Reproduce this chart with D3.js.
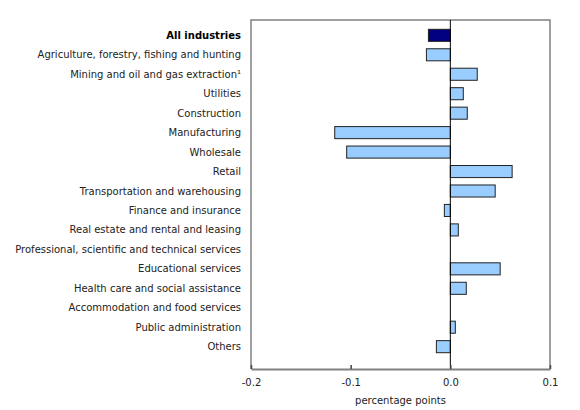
<!DOCTYPE html>
<html>
<head>
<meta charset="utf-8">
<script src="https://cdn.jsdelivr.net/npm/d3@7"></script>
<style>
  body { margin: 0; background: #fff; }
  text { font-family: "DejaVu Sans", Verdana, sans-serif; font-size: 10px; fill: #222; }
</style>
</head>
<body>
<div id="chart"></div>
<script>
// industries, top to bottom
var categories = [
  "All industries",
  "Agriculture, forestry, fishing and hunting",
  "Mining and oil and gas extraction\u00b9",
  "Utilities",
  "Construction",
  "Manufacturing",
  "Wholesale",
  "Retail",
  "Transportation and warehousing",
  "Finance and insurance",
  "Real estate and rental and leasing",
  "Professional, scientific and technical services",
  "Educational services",
  "Health care and social assistance",
  "Accommodation and food services",
  "Public administration",
  "Others"
];

// contribution, percentage points
var values = [
  -0.022, -0.024, 0.027, 0.013, 0.017, -0.116, -0.104, 0.062,
  0.045, -0.006, 0.008, 0.0, 0.050, 0.016, 0.0, 0.005, -0.014
];

var xTicks = [-0.2, -0.1, 0.0, 0.1];

var width = 580, height = 410;
var margin = { top: 20, right: 30, bottom: 41, left: 251 };

var svg = d3.select("#chart").append("svg")
  .attr("width", width)
  .attr("height", height);

var x = d3.scaleLinear()
  .domain([-0.2, 0.1])
  .range([margin.left, width - margin.right]);

var y = d3.scaleBand()
  .domain(categories)
  .range([margin.top + 5.6, height - margin.bottom - 12.6])
  .paddingInner(0.38)
  .paddingOuter(0.19);

var rows = categories.map(function (c, i) { return { name: c, value: values[i], total: i === 0 }; });

// frame
svg.append("path")
  .attr("d", "M" + x(-0.2) + "," + (height - margin.bottom) + "V" + margin.top +
    "H" + x(0.1) + "V" + (height - margin.bottom))
  .attr("fill", "none")
  .attr("stroke", "#808080")
  .attr("stroke-width", 1.5);

// bars
svg.selectAll(".bar")
  .data(rows)
  .enter().append("rect")
  .attr("class", "bar")
  .attr("x", function (d) { return x(Math.min(0, d.value)); })
  .attr("y", function (d) { return y(d.name); })
  .attr("width", function (d) { return Math.abs(x(d.value) - x(0)); })
  .attr("height", y.bandwidth())
  .attr("fill", function (d) { return d.total ? "#000080" : "#99ccff"; })
  .attr("stroke", "#222")
  .attr("stroke-width", 1);

// zero line
svg.append("line")
  .attr("x1", x(0)).attr("x2", x(0))
  .attr("y1", margin.top).attr("y2", height - margin.bottom)
  .attr("stroke", "#000")
  .attr("stroke-width", 1);

// bottom axis, plain hyphen for negatives
var fmt = d3.format(".1f");
var xAxis = svg.append("g")
  .attr("transform", "translate(0," + (height - margin.bottom) + ")")
  .call(d3.axisBottom(x).tickValues(xTicks)
    .tickFormat(function (d) { return fmt(d).replace("\u2212", "-"); })
    .tickSizeInner(-4).tickSizeOuter(0).tickPadding(10));
xAxis.select(".domain").attr("stroke", "#808080").attr("stroke-width", 2);
xAxis.selectAll(".tick line").attr("stroke", "#444").attr("stroke-width", 1.5);
xAxis.selectAll(".tick text").attr("font-size", null).attr("font-family", null);

// category labels
svg.selectAll(".cat")
  .data(rows)
  .enter().append("text")
  .attr("class", "cat")
  .attr("x", margin.left - 10)
  .attr("y", function (d) { return y(d.name) + y.bandwidth() / 2; })
  .attr("dy", "0.35em")
  .attr("text-anchor", "end")
  .style("font-weight", function (d) { return d.total ? "bold" : "normal"; })
  .style("fill", function (d) { return d.total ? "#000" : "#222"; })
  .text(function (d) { return d.name; });

svg.append("text")
  .attr("x", x(-0.05))
  .attr("y", height - 6)
  .attr("text-anchor", "middle")
  .text("percentage points");
</script>
</body>
</html>
